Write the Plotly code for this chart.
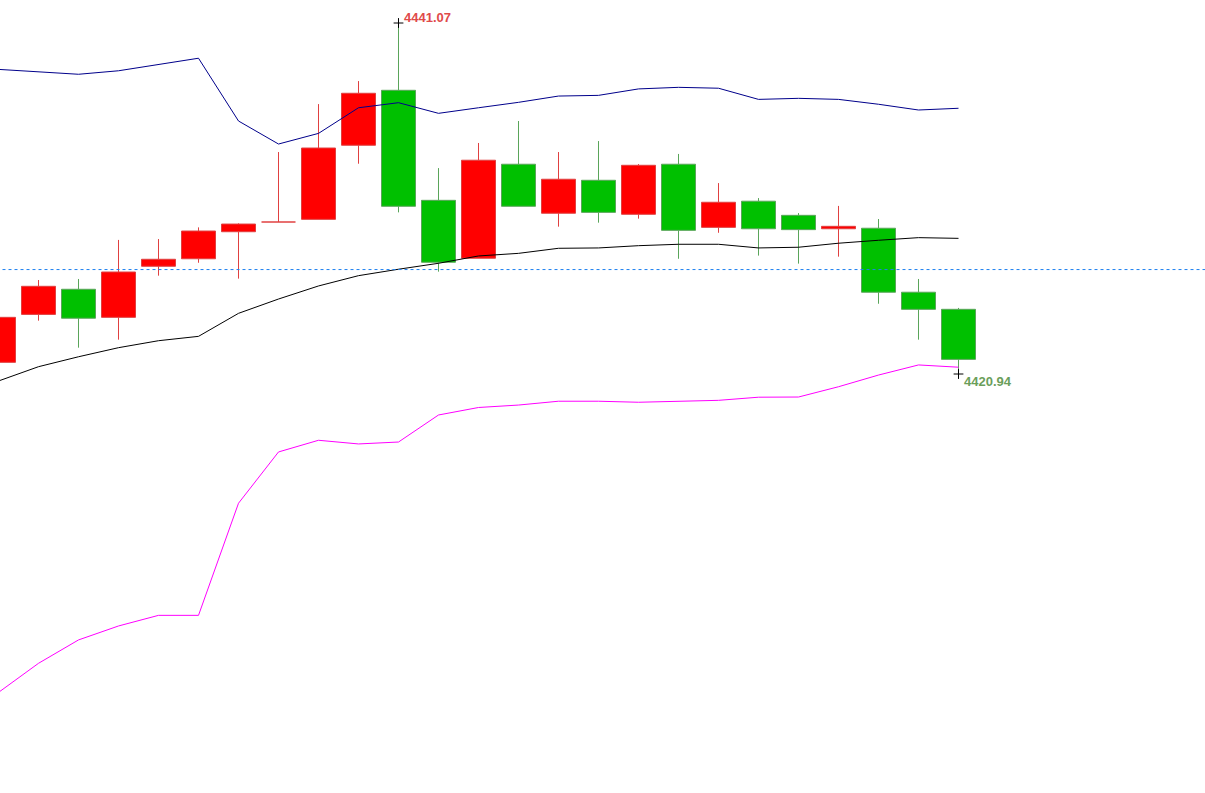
import plotly.graph_objects as go

# ---- data ----
opens  = [4421.61, 4424.36, 4425.80, 4424.19, 4427.12, 4427.55, 4429.10, 4429.66, 4429.81, 4434.06,
          4437.21, 4430.90, 4427.58, 4432.97, 4430.16, 4432.05, 4430.10, 4432.97, 4429.35, 4430.85,
          4430.04, 4429.27, 4429.30, 4425.63, 4424.65]
highs  = [4424.50, 4426.33, 4426.39, 4428.63, 4428.68, 4429.35, 4429.58, 4433.67, 4436.42, 4437.74,
          4441.07, 4432.75, 4434.19, 4435.45, 4433.67, 4434.30, 4432.98, 4433.56, 4431.89, 4431.03,
          4430.17, 4430.58, 4429.83, 4426.39, 4424.73]
lows   = [4421.29, 4424.00, 4422.45, 4422.91, 4426.58, 4427.32, 4426.41, 4429.66, 4429.81, 4433.00,
          4430.21, 4426.81, 4427.58, 4430.56, 4429.39, 4429.62, 4429.85, 4427.55, 4429.04, 4427.73,
          4427.27, 4427.67, 4424.97, 4422.91, 4420.94]
closes = [4424.19, 4425.97, 4424.14, 4426.79, 4427.52, 4429.14, 4429.54, 4429.66, 4433.90, 4437.04,
          4430.56, 4427.35, 4433.20, 4430.56, 4432.11, 4430.21, 4432.91, 4429.18, 4430.79, 4429.27,
          4429.22, 4429.41, 4425.63, 4424.65, 4421.78]

upper_band = [4438.41, 4438.28, 4438.13, 4438.33, 4438.70, 4439.05, 4435.45, 4434.13, 4434.74, 4436.21,
              4436.50, 4435.89, 4436.21, 4436.52, 4436.88, 4436.92, 4437.29, 4437.38, 4437.33, 4436.69,
              4436.75, 4436.69, 4436.41, 4436.08, 4436.18]
middle_band = [4420.54, 4421.36, 4421.93, 4422.45, 4422.85, 4423.10, 4424.42, 4425.24, 4425.99, 4426.58,
               4426.95, 4427.29, 4427.71, 4427.86, 4428.15, 4428.17, 4428.30, 4428.38, 4428.38, 4428.17,
               4428.21, 4428.44, 4428.61, 4428.76, 4428.72]
lower_band = [4402.68, 4404.35, 4405.69, 4406.49, 4407.10, 4407.10, 4413.53, 4416.47, 4417.14, 4416.93,
              4417.04, 4418.59, 4419.02, 4419.16, 4419.38, 4419.38, 4419.32, 4419.39, 4419.43, 4419.61,
              4419.62, 4420.21, 4420.88, 4421.46, 4421.33]
ref_level = 4426.93

# ---- styles ----
UP_FILL, UP_EDGE = "#FF0000", "#E04040"
DN_FILL, DN_EDGE = "#00C000", "#5AA55A"
BODY_W = 0.85

idx = list(range(len(opens)))
up = [i for i in idx if closes[i] >= opens[i]]
dn = [i for i in idx if closes[i] < opens[i]]

fig = go.Figure()

def wick_xy(ids):
    xs, ys = [], []
    for i in ids:
        top = max(opens[i], closes[i])
        bot = min(opens[i], closes[i])
        if highs[i] > top:
            xs += [i, i, None]
            ys += [top, highs[i], None]
        if lows[i] < bot:
            xs += [i, i, None]
            ys += [lows[i], bot, None]
    return xs, ys

for ids, col in ((up, UP_EDGE), (dn, DN_EDGE)):
    wx, wy = wick_xy(ids)
    fig.add_trace(go.Scatter(x=wx, y=wy, mode="lines", line=dict(color=col, width=1),
                             hoverinfo="skip"))

for ids, fill, edge in ((up, UP_FILL, UP_EDGE), (dn, DN_FILL, DN_EDGE)):
    body_ids = [i for i in ids if abs(closes[i] - opens[i]) > 0.001]
    fig.add_trace(go.Bar(
        x=body_ids,
        y=[abs(closes[i] - opens[i]) for i in body_ids],
        base=[min(opens[i], closes[i]) for i in body_ids],
        width=BODY_W,
        marker=dict(color=fill, line=dict(color=edge, width=1)),
        hoverinfo="skip"))

# doji bodies (open == close) as flat segments
dx, dy = [], []
for i in idx:
    if abs(closes[i] - opens[i]) <= 0.001:
        dx += [i - BODY_W / 2, i + BODY_W / 2, None]
        dy += [opens[i], opens[i], None]
fig.add_trace(go.Scatter(x=dx, y=dy, mode="lines", line=dict(color=UP_EDGE, width=1.5),
                         hoverinfo="skip"))

# bands
fig.add_trace(go.Scatter(x=idx, y=upper_band, mode="lines", line=dict(color="#00008B", width=1)))
fig.add_trace(go.Scatter(x=idx, y=middle_band, mode="lines", line=dict(color="#000000", width=1)))
fig.add_trace(go.Scatter(x=idx, y=lower_band, mode="lines", line=dict(color="#FF00FF", width=1)))

# reference dashed level
fig.add_trace(go.Scatter(x=[-5, 40], y=[ref_level, ref_level], mode="lines",
                         line=dict(color="#1E80F0", width=1, dash="3px,3px"), hoverinfo="skip"))

# extreme markers and labels
imax = max(idx, key=lambda i: highs[i])
imin = min(idx, key=lambda i: lows[i])
fig.add_trace(go.Scatter(x=[imax, imin], y=[highs[imax], lows[imin]], mode="markers",
                         marker=dict(symbol="cross-thin", size=7, line=dict(color="black", width=1)),
                         hoverinfo="skip"))
fig.add_annotation(x=imax, y=highs[imax], text=f"{highs[imax]:.2f}", showarrow=False,
                   xanchor="left", yanchor="bottom", xshift=3, yshift=-4,
                   font=dict(family="Liberation Sans", size=13, color="#E04A4A", weight="bold"))
fig.add_annotation(x=imin, y=lows[imin], text=f"{lows[imin]:.2f}", showarrow=False,
                   xanchor="left", yanchor="top", xshift=3, yshift=2,
                   font=dict(family="Liberation Sans", size=13, color="#6A9E5A", weight="bold"))

fig.update_layout(
    width=1205, height=793,
    margin=dict(l=0, r=0, t=0, b=0),
    paper_bgcolor="white", plot_bgcolor="white",
    showlegend=False, barmode="overlay",
    xaxis=dict(range=[0.0375, 30.1625], visible=False, fixedrange=True),
    yaxis=dict(range=[4396.912, 4442.389], visible=False, fixedrange=True),
)

fig.write_html("out.html", config={"displayModeBar": False},
               post_script="document.body.style.margin='0';document.body.style.overflow='hidden';")
